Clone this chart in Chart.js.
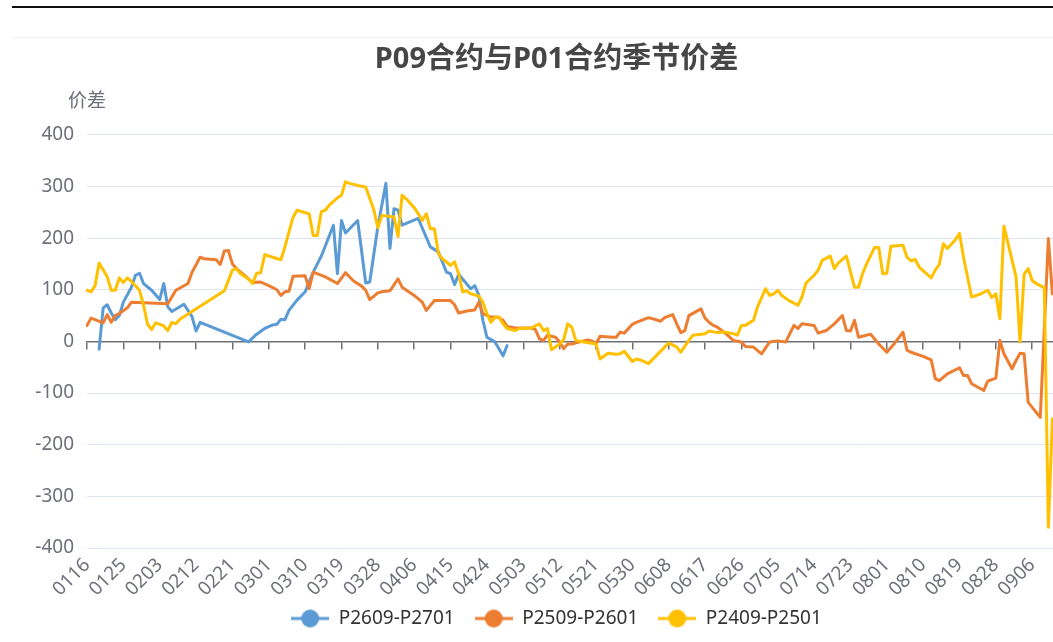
<!DOCTYPE html>
<html>
<head>
<meta charset="utf-8">
<title>P09合约与P01合约季节价差</title>
<script src="https://cdn.jsdelivr.net/npm/chart.js@4.4.1/dist/chart.umd.min.js"></script>
<style>
  html, body { margin: 0; padding: 0; background: #fff; }
  #wrap { position: relative; width: 1053px; height: 642px; overflow: hidden; background: #fff; }
  #wrap canvas { position: absolute; left: 0; top: 0; }
  #topline { position: absolute; left: 12px; right: 0; top: 6px; height: 2px; background: #111; }
  #sep { position: absolute; left: 12px; right: 0; top: 37px; height: 1px; background: #f2f2f2; }
</style>
</head>
<body>
<div id="wrap">
  <canvas id="spreadChart" width="1113" height="642"></canvas>
  <div id="topline"></div>
  <div id="sep"></div>
</div>
<script>
// seasonal axis: every calendar day Jan 16 .. Sep 26 (leap year, so 0229 exists)
// the screenshot is cut off on the right, the axis runs a bit past 0911
const monthDays = [31, 29, 31, 30, 31, 30, 31, 31, 30];
const categories = [];
for (let m = 1; m <= 9; m++) {
  for (let d = 1; d <= monthDays[m - 1]; d++) {
    if (m === 1 && d < 16) continue;
    if (m === 9 && d > 26) continue;
    categories.push(String(m).padStart(2, '0') + String(d).padStart(2, '0'));
  }
}

const tickLabels = ['0116','0125','0203','0212','0221','0301','0310','0319','0328','0406','0415','0424',
  '0503','0512','0521','0530','0608','0617','0626','0705','0714','0723','0801','0810','0819','0828','0906'];

const seriesNames = ['P2609-P2701', 'P2509-P2601', 'P2409-P2501'];
const seriesColors = ['#5B9BD5', '#ED7D31', '#FFC000'];

const p2609 = [['0119',-15],['0120',65],['0121',71],['0122',55],['0123',42],['0124',50],['0125',76],['0127',105],
  ['0128',128],['0129',132],['0130',112],['0201',99],['0203',81],['0204',112],['0205',67],['0206',58],['0209',72],
  ['0211',48],['0212',20],['0213',37],['0225',-1],['0227',14],['0229',25],['0302',32],['0303',33],['0304',43],
  ['0305',42],['0306',60],['0308',80],['0310',96],['0312',134],['0314',165],['0317',225],['0318',131],['0319',234],
  ['0320',210],['0323',234],['0325',113],['0326',115],['0328',222],['0330',306],['0331',180],['0401',257],['0402',254],
  ['0403',225],['0407',238],['0410',183],['0412',173],['0414',134],['0415',131],['0416',110],['0417',130],['0420',102],
  ['0421',108],['0422',89],['0423',41],['0424',8],['0426',-1],['0428',-28],['0429',-8]];

const p2509 = [['0116',31],['0117',45],['0118',42],['0120',36],['0121',52],['0122',37],['0123',50],['0124',54],
  ['0126',65],['0127',76],['0205',73],['0207',99],['0210',112],['0211',134],['0213',163],['0214',160],['0217',158],
  ['0218',149],['0219',175],['0220',176],['0221',150],['0222',141],['0224',128],['0226',114],['0228',115],['0301',108],
  ['0303',100],['0304',89],['0305',96],['0306',97],['0307',126],['0310',127],['0311',102],['0312',134],['0315',125],
  ['0318',112],['0320',133],['0322',117],['0324',107],['0325',99],['0326',81],['0328',94],['0329',96],['0331',98],
  ['0402',121],['0403',105],['0406',89],['0408',76],['0409',60],['0411',79],['0415',79],['0416',71],['0417',55],
  ['0419',59],['0421',61],['0422',76],['0423',54],['0425',47],['0426',47],['0427',46],['0428',41],['0429',29],
  ['0501',26],['0505',26],['0506',23],['0507',5],['0508',2],['0509',12],['0511',8],['0512',-1],['0513',-14],
  ['0514',-5],['0515',-5],['0517',-1],['0519',3],['0520',1],['0521',-5],['0522',10],['0525',8],['0526',8],
  ['0527',18],['0528',16],['0530',33],['0531',37],['0603',46],['0604',44],['0606',39],['0607',46],['0609',52],
  ['0610',34],['0611',17],['0612',21],['0613',50],['0616',63],['0617',45],['0618',37],['0619',31],['0620',28],
  ['0622',16],['0624',2],['0626',-1],['0627',-10],['0629',-11],['0701',-24],['0703',-1],['0705',1],['0707',-1],
  ['0709',31],['0710',25],['0711',34],['0714',31],['0715',16],['0717',21],['0719',34],['0721',50],['0722',21],
  ['0723',20],['0724',41],['0725',8],['0728',14],['0730',-5],['0801',-21],['0803',-3],['0805',18],['0806',-17],
  ['0807',-21],['0810',-29],['0812',-36],['0813',-72],['0814',-76],['0816',-63],['0819',-51],['0820',-66],
  ['0821',-66],['0822',-82],['0825',-95],['0826',-77],['0828',-71],['0829',2],['0830',-24],['0901',-53],
  ['0902',-37],['0903',-23],['0904',-24],['0905',-118],['0908',-147],['0910',199],['0911',92]];

const p2409 = [['0116',99],['0117',96],['0118',108],['0119',152],['0121',125],['0122',99],['0123',99],['0124',123],
  ['0125',114],['0126',123],['0127',116],['0129',99],['0130',70],['0131',33],['0201',23],['0202',36],['0204',30],
  ['0205',21],['0206',37],['0207',34],['0208',43],['0219',98],['0221',138],['0222',141],['0223',131],['0225',121],
  ['0226',112],['0227',132],['0228',133],['0229',168],['0302',163],['0304',158],['0305',183],['0306',212],['0307',240],
  ['0308',254],['0311',247],['0312',205],['0313',205],['0314',251],['0315',254],['0316',264],['0318',278],['0319',283],
  ['0320',309],['0321',306],['0323',302],['0325',299],['0327',255],['0328',220],['0329',244],['0331',242],['0401',241],
  ['0402',203],['0403',283],['0404',276],['0406',259],['0407',247],['0408',234],['0409',247],['0410',218],['0411',218],
  ['0412',170],['0413',160],['0415',147],['0416',154],['0417',131],['0418',96],['0419',98],['0420',92],['0422',88],
  ['0423',76],['0424',54],['0425',37],['0426',47],['0427',47],['0428',34],['0429',25],['0501',21],['0502',25],
  ['0505',26],['0507',34],['0508',21],['0509',25],['0510',-16],['0512',-5],['0513',3],['0514',34],['0515',28],
  ['0516',2],['0518',-1],['0521',-5],['0522',-34],['0524',-23],['0526',-25],['0527',-24],['0528',-19],['0530',-39],
  ['0531',-34],['0601',-36],['0603',-43],['0605',-27],['0607',-11],['0608',-3],['0610',-11],['0611',-21],['0613',2],
  ['0614',12],['0617',15],['0618',20],['0620',17],['0622',18],['0624',15],['0625',12],['0626',31],['0627',31],
  ['0629',41],['0630',67],['0702',102],['0703',89],['0704',92],['0705',99],['0706',89],['0708',78],['0710',70],
  ['0711',86],['0712',113],['0714',128],['0715',138],['0716',157],['0718',165],['0719',141],['0720',152],['0722',165],
  ['0724',105],['0725',105],['0726',131],['0727',150],['0729',182],['0730',182],['0731',131],['0801',132],['0802',184],
  ['0805',186],['0806',163],['0807',156],['0808',159],['0809',144],['0812',123],['0813',138],['0814',149],['0815',189],
  ['0816',180],['0818',197],['0819',209],['0820',163],['0822',86],['0824',91],['0826',99],['0827',85],['0828',92],
  ['0829',44],['0830',223],['0902',125],['0903',-1],['0904',130],['0905',141],['0906',118],['0907',112],['0909',104],
  ['0910',-360],['0911',-150]];

const FONT = "'Noto Sans', 'Noto Sans CJK SC', sans-serif";
const AXIS_COLOR = '#6E7079';
Chart.defaults.font.family = FONT;

// legend icon like echarts: short line with a dot
function legendIcon(color) {
  const c = document.createElement('canvas');
  c.width = 38; c.height = 20;
  const g = c.getContext('2d');
  g.strokeStyle = color; g.lineWidth = 3;
  g.beginPath(); g.moveTo(0, 10); g.lineTo(38, 10); g.stroke();
  g.fillStyle = color;
  g.beginPath(); g.arc(19, 10, 9, 0, Math.PI * 2); g.fill();
  return c;
}
const icons = seriesColors.map(legendIcon);

const yAxisName = {
  id: 'yAxisName',
  afterDraw(chart) {
    const {ctx, chartArea} = chart;
    ctx.save();
    ctx.font = '19px ' + FONT;
    ctx.fillStyle = AXIS_COLOR;
    ctx.textAlign = 'center';
    ctx.textBaseline = 'middle';
    ctx.fillText('价差', chartArea.left, chartArea.top - 33);
    ctx.restore();
  }
};

// rotated date labels hang below the (short) x box, don't clip them
const noLabelClip = {
  id: 'noLabelClip',
  beforeDraw(chart) {
    chart.scales.x._computeLabelArea = () => undefined;
  }
};

function makeSet(i, rows, order) {
  return {
    label: seriesNames[i],
    data: rows.map(r => ({x: r[0], y: r[1]})),
    borderColor: seriesColors[i],
    backgroundColor: seriesColors[i],
    borderWidth: 3,
    pointRadius: 0,
    pointHoverRadius: 0,
    tension: 0,
    fill: false,
    borderJoinStyle: 'round',
    borderCapStyle: 'round',
    order: order
  };
}

new Chart(document.getElementById('spreadChart'), {
  type: 'line',
  data: {
    labels: categories,
    datasets: [makeSet(0, p2609, 3), makeSet(1, p2509, 2), makeSet(2, p2409, 1)]
  },
  options: {
    responsive: false,
    animation: false,
    devicePixelRatio: 1,
    layout: { padding: { left: 0, right: 0, top: 0, bottom: 4 } },
    plugins: {
      title: {
        display: true,
        text: 'P09合约与P01合约季节价差',
        color: '#464646',
        font: { size: 29, weight: 'bold' },
        padding: { top: 42, bottom: 58 }
      },
      legend: {
        position: 'bottom',
        labels: {
          usePointStyle: true,
          pointStyleWidth: 38,
          boxHeight: 19,
          padding: 20,
          color: '#333',
          font: { size: 19 },
          generateLabels(chart) {
            const items = Chart.defaults.plugins.legend.labels.generateLabels(chart);
            items.forEach(it => { it.pointStyle = icons[it.datasetIndex]; });
            return items.sort((a, b) => a.datasetIndex - b.datasetIndex);
          }
        }
      },
      tooltip: { enabled: false }
    },
    scales: {
      x: {
        type: 'category',
        offset: false,
        grid: { display: false, drawTicks: false },
        border: { display: false },
        ticks: {
          autoSkip: false,
          minRotation: 45,
          maxRotation: 45,
          padding: 6,
          color: AXIS_COLOR,
          font: { size: 19 },
          callback(v, i) {
            const l = categories[i];
            return tickLabels.includes(l) ? l : null;
          }
        },
        afterFit(s) {
          s.height = 41;
          s.paddingRight = 0;
        }
      },
      xZero: {
        type: 'category',
        labels: categories,
        offset: false,
        position: { y: 0 },
        grid: {
          drawOnChartArea: false,
          drawTicks: true,
          tickLength: 7,
          lineWidth: 1.5,
          color: c => tickLabels.includes(categories[c.index]) ? AXIS_COLOR : 'rgba(0,0,0,0)'
        },
        border: { display: true, color: AXIS_COLOR, width: 1.5 },
        ticks: { display: false, autoSkip: false }
      },
      y: {
        min: -400,
        max: 400,
        ticks: { stepSize: 100, color: AXIS_COLOR, font: { size: 19 }, padding: 13 },
        grid: { color: '#E0E6F1', drawTicks: false },
        border: { display: false },
        afterFit(s) { s.width = 87; }
      }
    }
  },
  plugins: [yAxisName, noLabelClip]
});
</script>
</body>
</html>
